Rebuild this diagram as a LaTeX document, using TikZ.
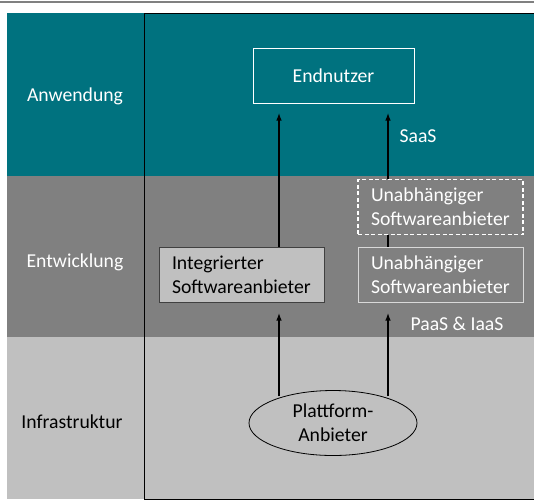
\documentclass[tikz,border=0pt]{standalone}
\usepackage{fontspec}
\setmainfont{Carlito}
\usetikzlibrary{shapes.geometric,arrows.meta,positioning}
\definecolor{appteal}{RGB}{0,114,127}
\definecolor{devgray}{RGB}{128,128,128}
\definecolor{infgray}{RGB}{192,192,192}

\begin{document}
\begin{tikzpicture}[x=1pt, y=-1pt,
    layerlabel/.style={font=\fontsize{19.7}{24}\selectfont, align=center},
    provider/.style={rectangle, text width=139pt, inner xsep=13pt, minimum height=55pt, align=left, font=\fontsize{19.7}{24}\selectfont},
    flow/.style={-{Latex[length=8pt, width=5.5pt]}, line width=1.8pt, black},
    tag/.style={text=white, font=\fontsize{19.7}{24}\selectfont}
]
\useasboundingbox (0,0) rectangle (534,501);

% Layers (bands)
\fill[appteal] (7,13) rectangle (534,176);
\fill[devgray] (7,176) rectangle (534,337);
\fill[infgray] (7,337) rectangle (534,499);
\draw[devgray, line width=2pt] (0,2) -- (534,2);

% Frame round the actors
\draw[black, line width=1pt] (534,13) -- (144,13) -- (144,499) -- (534,499);

% Layer names
\node[layerlabel, text=white] (anw) at (75,96) {Anwendung};
\node[layerlabel, text=white] (entw) at (75,262) {Entwicklung};
\node[layerlabel, text=black] (infra) at (72,422) {Infrastruktur};

% Actors
\node[rectangle, draw=white, line width=1pt, text=white, minimum width=161pt, minimum height=55pt, font=\fontsize{19.7}{24}\selectfont] (endnutzer) at (333.5,75.5) {Endnutzer};
\node[provider, draw=black!75, fill=infgray, line width=1pt] (integriert) at (241.5,274.5) {Integrierter\\Softwareanbieter};
\node[provider, draw=white, dash pattern=on 4pt off 2.5pt, line width=1.5pt, text=white] (unabhS) at (440.5,207) {Unabh\"angiger\\Softwareanbieter};
\node[provider, draw=black!15, line width=1pt, text=white] (unabhP) at (440.5,274.5) {Unabh\"angiger\\Softwareanbieter};
\node[ellipse, draw=black, fill=infgray, line width=0.8pt, minimum width=168pt, minimum height=65pt, align=center, font=\fontsize{19.7}{24}\selectfont] (plattform) at (333,423) {Plattform-\\Anbieter};

% Arrow columns
\coordinate (lcol) at (279,0);
\coordinate (rcol) at (388,0);

% Flows
\draw[flow, shorten >=9pt] (integriert.north -| lcol) -- (endnutzer.south -| lcol);
\draw[flow, shorten >=9pt] (unabhS.north -| rcol) -- (endnutzer.south -| rcol);
\draw[line width=1.8pt] (unabhP.north -| rcol) -- (unabhS.south -| rcol);
\draw[flow, shorten >=10pt] (plattform.152 -| lcol) -- (integriert.south -| lcol);
\draw[flow, shorten >=10pt] (plattform.28 -| rcol) -- (unabhP.south -| rcol);

% Models
\node[tag] (saas) at (418,136) {SaaS};
\node[tag] (paas) at (457,324) {PaaS \& IaaS};

\end{tikzpicture}
\end{document}
